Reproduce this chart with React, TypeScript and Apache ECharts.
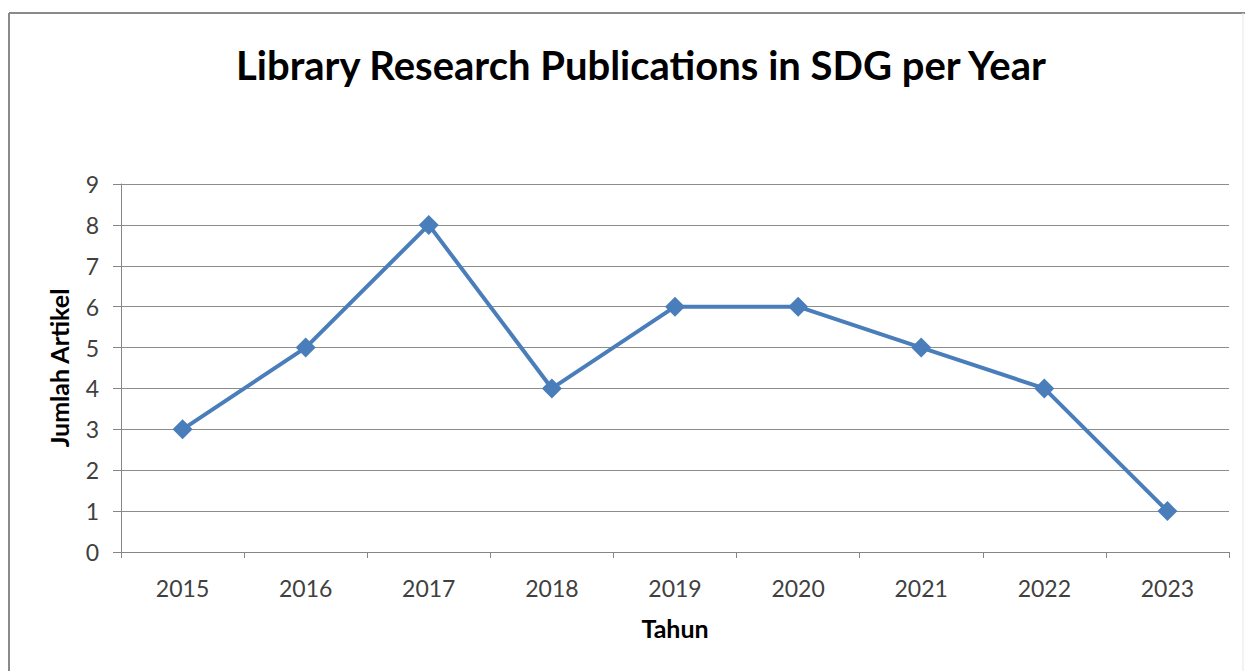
import React, { useEffect, useRef } from "react";
import * as echarts from "echarts";

const title = "Library Research Publications in SDG per Year";
const years = ["2015", "2016", "2017", "2018", "2019", "2020", "2021", "2022", "2023"];
const articles = [3, 5, 8, 4, 6, 6, 5, 4, 1];
const xName = "Tahun";
const yName = "Jumlah Artikel";

export default function App() {
  const ref = useRef<HTMLDivElement>(null);
  useEffect(() => {
    if (!ref.current) return;
    const chart = echarts.init(ref.current, null, { renderer: "svg" });
    chart.setOption({
      animation: false,
      backgroundColor: "#ffffff",
      title: {
        text: title,
        left: 231,
        top: 40,
        textStyle: { fontFamily: "Lato", fontWeight: "bold", fontSize: 40, color: "#000" },
      },
      graphic: [
        { type: "line", shape: { x1: 9, y1: 13, x2: 1245, y2: 13 }, style: { stroke: "#8a8a8a", lineWidth: 2 } },
        { type: "line", shape: { x1: 9, y1: 13, x2: 9, y2: 671 }, style: { stroke: "#8a8a8a", lineWidth: 2 } },
        { type: "line", shape: { x1: 1243, y1: 13, x2: 1243, y2: 671 }, style: { stroke: "#e6e6e6", lineWidth: 1 } },
      ],
      grid: { left: 121, right: 16, top: 184, bottom: 119 },
      xAxis: {
        type: "category",
        data: years,
        boundaryGap: true,
        name: xName,
        nameLocation: "middle",
        nameGap: 63,
        nameTextStyle: { fontFamily: "Lato", fontWeight: "bold", fontSize: 25, color: "#000" },
        axisLine: { lineStyle: { color: "#868686", width: 1 } },
        axisTick: { show: true, length: 6, lineStyle: { color: "#868686" } },
        axisLabel: { margin: 24, fontFamily: "Lato", fontSize: 23, color: "#404040" },
      },
      yAxis: {
        type: "value",
        min: 0,
        max: 9,
        interval: 1,
        name: yName,
        nameLocation: "middle",
        nameGap: 50,
        nameTextStyle: { fontFamily: "Lato", fontWeight: "bold", fontSize: 25, color: "#000" },
        axisLine: { show: true, lineStyle: { color: "#868686", width: 1 } },
        axisTick: { show: true, length: 8, lineStyle: { color: "#868686" } },
        axisLabel: { margin: 22, fontFamily: "Lato", fontSize: 23, color: "#404040" },
        splitLine: { show: true, lineStyle: { color: "#8c8c8c", width: 1 } },
      },
      series: [
        {
          type: "line",
          data: articles,
          symbol: "diamond",
          symbolSize: 20,
          lineStyle: { color: "#4a7ebb", width: 4 },
          itemStyle: { color: "#4a7ebb" },
        },
      ],
    });
    return () => chart.dispose();
  }, []);
  return (
    <div
      ref={ref}
      style={{ position: "fixed", left: 0, top: 0, width: 1245, height: 671 }}
    />
  );
}
